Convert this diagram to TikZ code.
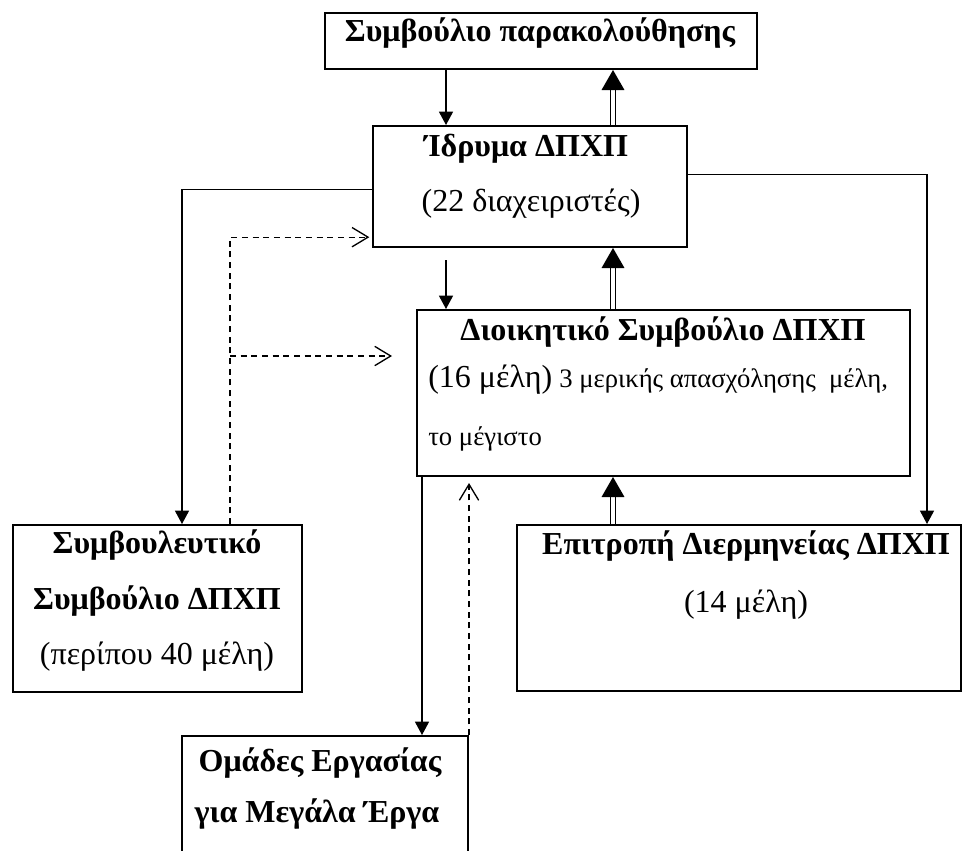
\documentclass[tikz,border=0pt]{standalone}
\usepackage{fontspec}
\setmainfont{Liberation Serif}
\usetikzlibrary{arrows.meta,positioning}

\tikzset{
  box/.style={draw, line width=1.5pt, inner sep=0pt},
  txt/.style={anchor=base, inner sep=0pt, font=\fontsize{24}{28}\selectfont},
  head/.style={anchor=base, inner sep=0pt, font=\fontsize{24}{28}\selectfont\bfseries},
  small/.style={anchor=base west, inner sep=0pt, font=\fontsize{20}{24}\selectfont},
  arr/.style={line width=1pt, -{Triangle[length=10pt,width=10.5pt]}},
  dbl/.style={double, double distance=2.4pt, line width=0.9pt, -{Triangle[length=15pt,width=17pt]}},
  dsh/.style={line width=1pt, dash pattern=on 4.5pt off 3.5pt, -{Straight Barb[length=12pt,width=14.5pt]}}
}

\begin{document}
\begin{tikzpicture}[x=0.75pt,y=-0.75pt]
\useasboundingbox (0,0) rectangle (963,850);

% boxes
\node[box, minimum width=324pt, minimum height=42pt] (monitor) at (541,41) {};
\node[box, minimum width=235.5pt, minimum height=90.75pt] (idruma) at (530,186.5) {};
\node[box, minimum width=369.75pt, minimum height=124.5pt] (dioik) at (663.5,393) {};
\node[box, minimum width=216.75pt, minimum height=125.25pt] (symv) at (157.5,608.5) {};
\node[box, minimum width=333pt, minimum height=124.5pt] (epitr) at (739,608) {};
\node[box, minimum width=214.5pt, minimum height=93pt] (omades) at (325,798) {};

% texts
\node[head] (monitorA) at (540,41) {Συμβούλιο παρακολούθησης};
\node[head] (idrumaA) at (526,156) {Ίδρυμα ΔΠΧΠ};
\node[txt] (idrumaB) at (531,211) {(22 διαχειριστές)};
\node[head] (dioikA) at (663,340) {Διοικητικό Συμβούλιο ΔΠΧΠ};
\node[txt, anchor=base west] (dioikB) at (428,387) {(16 μέλη)};
\node[small] (dioikC) at (dioikB.base east) {\ 3 μερικής απασχόλησης\ \ μέλη,};
\node[small] (dioikD) at (428,445) {το μέγιστο};
\node[head] (symvA) at (157,553) {Συμβουλευτικό};
\node[head] (symvB) at (157,609) {Συμβούλιο ΔΠΧΠ};
\node[txt] (symvC) at (157,664) {(περίπου 40 μέλη)};
\node[head] (epitrA) at (746,554) {Επιτροπή Διερμηνείας ΔΠΧΠ};
\node[txt] (epitrB) at (746,612) {(14 μέλη)};
\node[head] (omadesA) at (320,771) {Ομάδες Εργασίας};
\node[head] (omadesB) at (317,822) {για Μεγάλα Έργα};

% columns of the connectors
\coordinate (cA) at (446,0);
\coordinate (cD) at (613,0);
\coordinate (cL) at (182,0);
\coordinate (cR) at (927,0);
\coordinate (cG) at (422,0);
\coordinate (cS) at (230,0);
\coordinate (split) at (230,356);

% connectors
\draw[arr] (monitor.south -| cA) -- (idruma.north -| cA);
\draw[dbl] (idruma.north -| cD) -- (monitor.south -| cD);
\draw[arr, shorten <=9pt] (idruma.south -| cA) -- (dioik.north -| cA);
\draw[dbl] (dioik.north -| cD) -- (idruma.south -| cD);
\draw[dbl] (epitr.north -| cD) -- (dioik.south -| cD);
\draw[arr] ([yshift=-2pt]idruma.west) -| (symv.north -| cL);
\draw[arr] ([yshift=9pt]idruma.east) -| (epitr.north -| cR);
\draw[arr] (dioik.south -| cG) -- (omades.north -| cG);
\draw[dsh, shorten >=4.5pt] (omades.north east) -- (dioik.south -| omades.north east);
\draw[dsh, shorten >=2pt] (symv.north -| cS) |- ([yshift=-38pt]idruma.west);
\draw[dsh, shorten >=18pt] (split) -- (dioik.west |- split);
\end{tikzpicture}
\end{document}
